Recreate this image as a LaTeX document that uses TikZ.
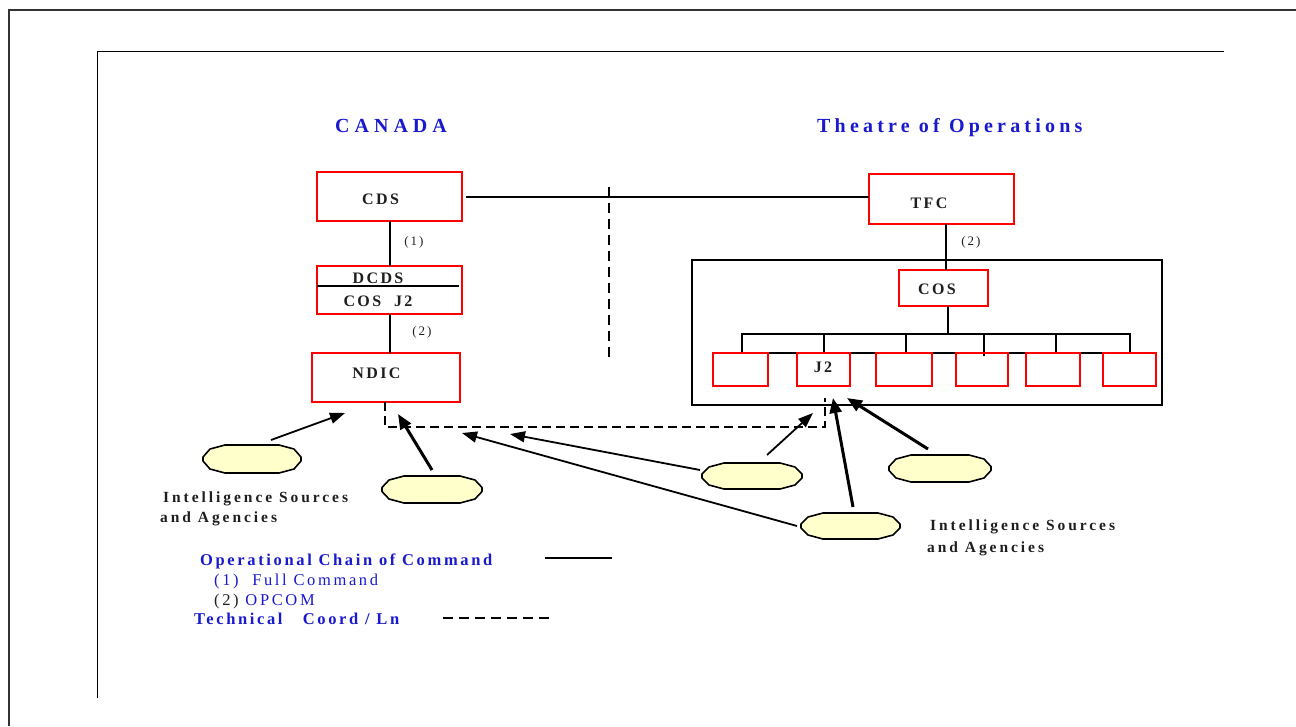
\documentclass[tikz,border=0pt]{standalone}
\usepackage{fontspec}
\setmainfont{Liberation Serif}
\newfontfamily\trackwide[LetterSpace=25]{Liberation Serif}
\newfontfamily\tracktitle[LetterSpace=21]{Liberation Serif}
\newfontfamily\tracknorm[LetterSpace=15]{Liberation Serif}
\newfontfamily\trackintel[LetterSpace=19]{Liberation Serif}
\newfontfamily\trackleg[LetterSpace=16]{Liberation Serif}
\usetikzlibrary{arrows.meta}
\definecolor{legblue}{RGB}{25,25,205}
\definecolor{cream}{RGB}{255,255,204}
\definecolor{ink}{RGB}{30,30,30}
% outline of an intelligence-source blob around a node (y axis points down)
\newcommand\sourceblob[1]{%
  \filldraw[fill=cream, draw=black, line width=1.6pt, line join=round]
    ([shift={(0,-2)}]#1.west) -- ([shift={(7,4)}]#1.north west) -- ([xshift=22pt]#1.north west)
    -- ([xshift=-22pt]#1.north east) -- ([shift={(-7,4)}]#1.north east) -- ([shift={(0,-2)}]#1.east)
    -- ([shift={(0,2)}]#1.east) -- ([shift={(-7,-4)}]#1.south east) -- ([xshift=-22pt]#1.south east)
    -- ([xshift=22pt]#1.south west) -- ([shift={(7,-4)}]#1.south west) -- ([shift={(0,2)}]#1.west) -- cycle;}
\begin{document}
\begin{tikzpicture}[x=1pt,y=-1pt,
  redbox/.style={draw=red, line width=2pt, inner sep=0pt, outer sep=0pt},
  blackbox/.style={draw=black, line width=2pt, inner sep=0pt, outer sep=0pt},
  boxlabel/.style={font=\tracknorm\bfseries\fontsize{16}{19}\selectfont, text=ink, inner sep=0pt, anchor=base},
  title/.style={text=legblue, inner sep=0pt, anchor=base west},
  parlabel/.style={font=\tracknorm\fontsize{13}{16}\selectfont, text=ink, inner sep=0pt, anchor=base},
  intel/.style={font=\trackintel\bfseries\fontsize{15.5}{18}\selectfont, text=ink, inner sep=0pt, anchor=base west},
  legbold/.style={font=\trackleg\bfseries\fontsize{16.5}{19}\selectfont, text=legblue, inner sep=0pt, anchor=base west},
  legnorm/.style={font=\trackleg\fontsize{16.5}{19}\selectfont, text=legblue, inner sep=0pt, anchor=base west},
  source/.style={inner sep=0pt, outer sep=0pt},
  cmd/.style={draw=black, line width=2pt},
  techline/.style={draw=black, line width=1.8pt, dash pattern=on 9pt off 5pt},
  feedthin/.style={draw=black, line width=1.8pt, -{Triangle[length=15pt,width=11pt]}},
  feedthick/.style={draw=black, line width=3pt, -{Triangle[length=15pt,width=12pt]}}
]
\useasboundingbox (0,0) rectangle (1296,726);

% page frames
\draw[line width=2.2pt, black!80] (9,726) -- (9,10) -- (1296,10);
\draw[line width=1pt] (97,698) -- (97,51) -- (1224,51);

% headings
\node[title, font=\trackwide\bfseries\fontsize{20}{24}\selectfont] (canada) at (335,132) {CANADA};
\node[title, font=\tracktitle\bfseries\fontsize{20}{24}\selectfont] (theatre) at (817,132) {Theatre of Operations};

% Canadian chain
\node[redbox, minimum width=145pt, minimum height=49pt] (cds) at (389.5,196.5) {};
\node[boxlabel] (cdst) at (380.5,204) {CDS};
\node[redbox, minimum width=145pt, minimum height=48pt] (dcds) at (389.5,290) {};
\node[boxlabel] (dcdst) at (378,283) {DCDS};
\node[boxlabel] (cosjt) at (378,306) {COS\ \ J2};
\node[redbox, minimum width=148pt, minimum height=49pt] (ndic) at (386,377.5) {};
\node[boxlabel] (ndict) at (376.5,378) {NDIC};

\draw[cmd] ([yshift=4pt]dcds.west) -- ([shift={(-3,-4)}]dcds.east);
\draw[cmd] (cds) -- (dcds);
\draw[cmd] (dcds.south) -- (dcds.south |- ndic.north);
\node[parlabel] (p1) at (414,245) {(1)};
\node[parlabel] (p2a) at (422,335) {(2)};

% theatre chain
\node[redbox, minimum width=145pt, minimum height=50pt] (tfc) at (941.5,199) {};
\node[boxlabel] (tfct) at (929,208) {TFC};
\node[blackbox, minimum width=470pt, minimum height=145pt] (hq) at (927,332.5) {};
\node[redbox, minimum width=89pt, minimum height=36pt] (cos) at (943.5,288) {};
\node[boxlabel] (cost) at (937,294) {COS};
\node[draw=black, line width=2pt, inner sep=0pt, outer sep=0pt, minimum width=388pt, minimum height=19pt] (bar) at (936,343.5) {};
\node[parlabel] (p2b) at (971,245) {(2)};

\draw[cmd] ([xshift=4pt]cds.east) -- (cds.east -| tfc.west);
\draw[cmd] ([xshift=4.5pt]tfc.south) -- ([xshift=4.5pt]tfc.south |- cos.north);
\draw[cmd] ([xshift=4.5pt]cos.south) -- ([xshift=4.5pt]cos.south |- bar.north);

\coordinate (d1) at (824,0);
\coordinate (d2) at (906,0);
\coordinate (d3) at (984,0);
\coordinate (d4) at (1056,0);
\draw[cmd] (bar.north -| d1) -- (bar.south -| d1);
\draw[cmd] (bar.north -| d2) -- (bar.south -| d2);
\draw[cmd] (bar.north -| d3) -- ([yshift=-3pt]bar.south -| d3);
\draw[cmd] (bar.north -| d4) -- (bar.south -| d4);

\node[redbox, minimum width=55pt, minimum height=33pt] (sb1) at (740.5,369.5) {};
\node[redbox, minimum width=53pt, minimum height=33pt] (sb2) at (823.5,369.5) {};
\node[boxlabel] (j2t) at (823,372) {J2};
\node[redbox, minimum width=56pt, minimum height=33pt] (sb3) at (904,369.5) {};
\node[redbox, minimum width=52pt, minimum height=33pt] (sb4) at (982,369.5) {};
\node[redbox, minimum width=54pt, minimum height=33pt] (sb5) at (1053,369.5) {};
\node[redbox, minimum width=53pt, minimum height=33pt] (sb6) at (1129.5,369.5) {};

% boundary between the two halves
\coordinate (vtop) at (609,187);
\coordinate (vbot) at (609,362);
\draw[cmd, line width=1.8pt, dash pattern=on 10pt off 6pt] (vtop) -- (vbot);

% technical coordination link
\coordinate (tlink) at (825,427);
\coordinate (tend) at (825,398);
\draw[techline] ([xshift=-1pt]ndic.south) |- (tlink) -- (tend);

% intelligence sources
\node[source, minimum width=98pt, minimum height=28pt] (e1) at (252,459) {};
\node[source, minimum width=100pt, minimum height=27pt] (e2) at (432,489.5) {};
\node[source, minimum width=100pt, minimum height=26pt] (e3) at (752,476) {};
\node[source, minimum width=99pt, minimum height=26pt] (e4) at (850.5,526) {};
\node[source, minimum width=102pt, minimum height=27pt] (e5) at (940,468.5) {};
\sourceblob{e1}
\sourceblob{e2}
\sourceblob{e3}
\sourceblob{e4}
\sourceblob{e5}

\coordinate (t1) at (345,413);
\coordinate (t2) at (398,414);
\coordinate (t3) at (510,434);
\coordinate (t4) at (462,433);
\coordinate (t5) at (813,413);
\coordinate (t6) at (833,398);
\coordinate (t7) at (847,398);

\draw[feedthin] ([shift={(19,-5)}]e1.north) -- (t1);
\draw[feedthick] ([shift={(0,-6)}]e2.north) -- (t2);
\draw[feedthin] ([shift={(-2,-6)}]e3.west) -- (t3);
\draw[feedthin] ([xshift=-4pt]e4.west) -- (t4);
\draw[feedthin] ([shift={(15,-8)}]e3.north) -- (t5);
\draw[feedthick] ([shift={(2.5,-6)}]e4.north) -- (t6);
\draw[feedthick] ([shift={(-12,-6)}]e5.north) -- (t7);

\node[intel] (isl1) at (163,502) {Intelligence Sources};
\node[intel] (isl2) at (160,522) {and Agencies};
\node[intel] (isr1) at (930,530) {Intelligence Sources};
\node[intel] (isr2) at (927,552) {and Agencies};

% legend
\node[legbold] (lg1) at (200,565) {Operational Chain of Command};
\node[legnorm] (lg2) at (214,585) {(1)\ \ Full Command};
\node[legnorm] (lg3) at (214,605) {\textcolor{ink}{(2)} OPCOM};
\node[legbold] (lg4) at (194,624) {Technical\ \ \ Coord / Ln};
\coordinate (ls1) at (545,558);
\coordinate (ls2) at (612,558);
\draw[cmd] (ls1) -- (ls2);
\coordinate (ld1) at (443,618);
\coordinate (ld2) at (552,618);
\draw[cmd, line width=1.2pt, dash pattern=on 10pt off 6pt] (ld1) -- (ld2);
\end{tikzpicture}
\end{document}
